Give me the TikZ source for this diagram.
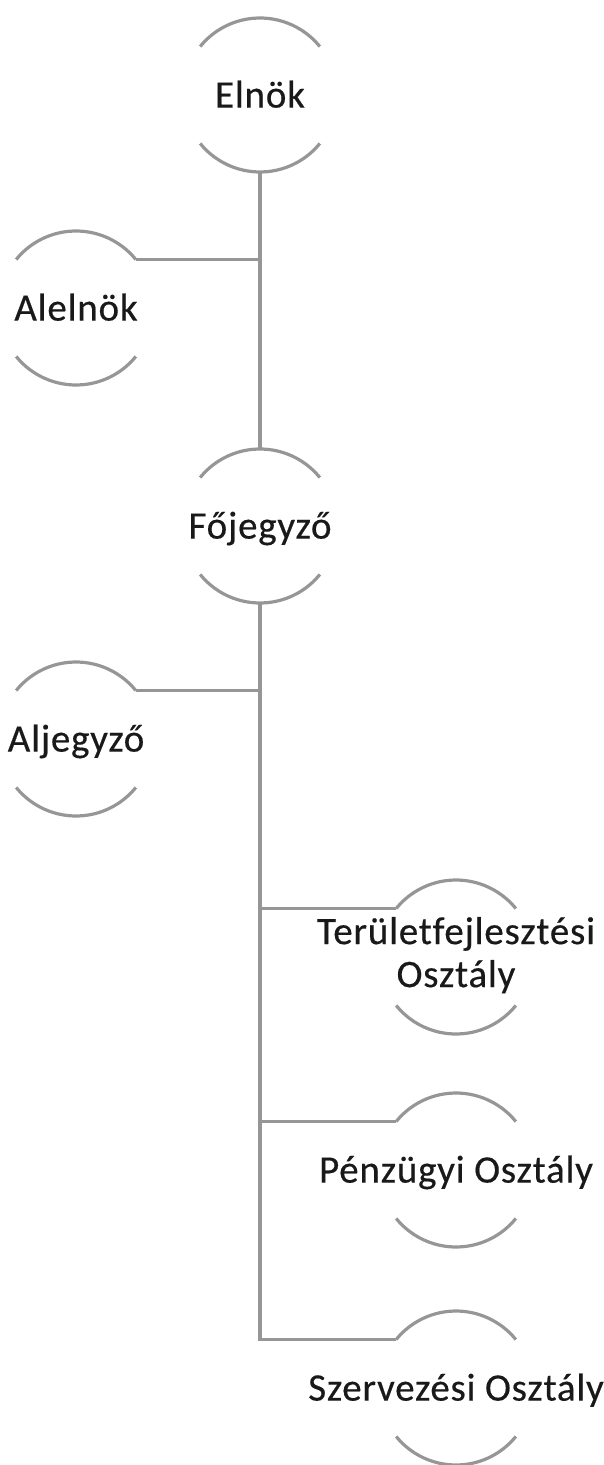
\documentclass[tikz,border=0pt]{standalone}
\usepackage{fontspec}
\setmainfont[LetterSpace=2,FakeBold=0.4,Ligatures=NoCommon]{Carlito}
\usepackage{tikz}

\definecolor{linegray}{RGB}{150,150,150}
\definecolor{textdark}{RGB}{25,25,25}

\begin{document}
\begin{tikzpicture}[x=0.5pt,y=0.5pt,
   unit/.style={circle, minimum size=77pt, inner sep=0pt, outer sep=0pt,
                text=textdark, font=\fontsize{19.5}{21.5}\selectfont},
   oneline/.style={text height=12.6pt, text depth=0pt},
   conn/.style={draw=linegray, line width=1.6pt},
   arcline/.style={draw=linegray, line width=1.6pt}]

   \useasboundingbox (0,0) rectangle (604,-1465);

   % units
   \node[unit,oneline] (elnok)    at (260,-95)   {\makebox[0pt]{Elnök}};
   \node[unit,oneline] (alelnok)  at (76,-308)   {\makebox[0pt]{Alelnök}};
   \node[unit,oneline] (fojegyzo) at (260,-526)  {\makebox[0pt]{Főjegyző}};
   \node[unit,oneline] (aljegyzo) at (76,-739)   {\makebox[0pt]{Aljegyző}};
   \node[unit]         (terulet)  at (456,-957)  {\makebox[0pt]{\begin{tabular}{@{}c@{}}Területfejlesztési\\Osztály\end{tabular}}};
   \node[unit,oneline] (penzugy)  at (456,-1170) {\makebox[0pt]{Pénzügyi Osztály}};
   \node[unit,oneline] (szervez)  at (456,-1388) {\makebox[0pt]{Szervezési Osztály}};

   % arcs above and below each unit
   \foreach \n in {elnok,alelnok,fojegyzo,aljegyzo,terulet,penzugy,szervez} {
      \draw[arcline] (\n.39) arc (39:141:38.5pt);
      \draw[arcline] (\n.219) arc (219:321:38.5pt);
   }

   % connectors
   \draw[conn] (elnok.south) -- (fojegyzo.north);
   \draw[conn] (alelnok.39) -- (alelnok.39 -| elnok.south);
   \draw[conn] (fojegyzo.south) |- (szervez.141);
   \draw[conn] (aljegyzo.39) -- (aljegyzo.39 -| fojegyzo.south);
   \draw[conn] (terulet.141) -- (terulet.141 -| fojegyzo.south);
   \draw[conn] (penzugy.141) -- (penzugy.141 -| fojegyzo.south);

\end{tikzpicture}
\end{document}
